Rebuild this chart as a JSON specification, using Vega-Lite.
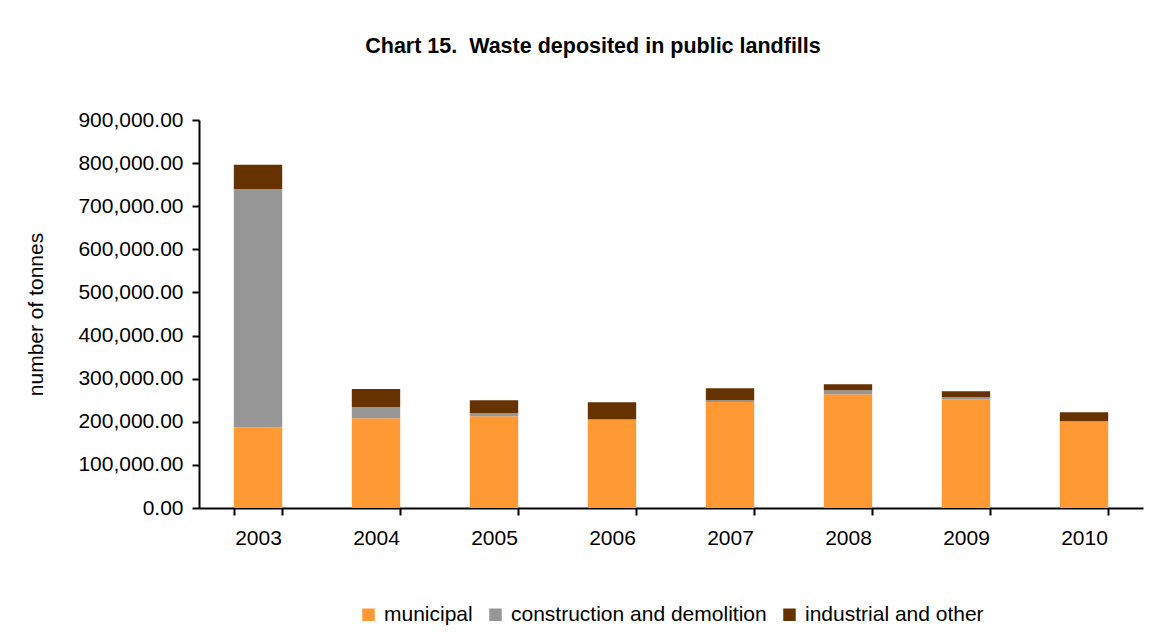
{
  "$schema": "https://vega.github.io/schema/vega-lite/v6.json",
  "autosize": "none",
  "width": 944,
  "height": 388,
  "padding": {"left": 199, "top": 120, "right": 11, "bottom": 124},
  "background": "white",
  "title": {
    "text": "Chart 15.\u00a0\u00a0Waste deposited in public landfills",
    "font": "Liberation Sans",
    "fontSize": 21.5,
    "fontWeight": "bold",
    "color": "black",
    "anchor": "middle",
    "frame": "group",
    "dx": -78,
    "offset": 52
  },
  "data": {
    "values": [
      {"year": "2003", "type": "municipal", "stack_rank": 1, "value": 187000},
      {"year": "2003", "type": "construction and demolition", "stack_rank": 2, "value": 553000},
      {"year": "2003", "type": "industrial and other", "stack_rank": 3, "value": 56000},
      {"year": "2004", "type": "municipal", "stack_rank": 1, "value": 208000},
      {"year": "2004", "type": "construction and demolition", "stack_rank": 2, "value": 26000},
      {"year": "2004", "type": "industrial and other", "stack_rank": 3, "value": 42000},
      {"year": "2005", "type": "municipal", "stack_rank": 1, "value": 213000},
      {"year": "2005", "type": "construction and demolition", "stack_rank": 2, "value": 7000},
      {"year": "2005", "type": "industrial and other", "stack_rank": 3, "value": 30000},
      {"year": "2006", "type": "municipal", "stack_rank": 1, "value": 204000},
      {"year": "2006", "type": "construction and demolition", "stack_rank": 2, "value": 2500},
      {"year": "2006", "type": "industrial and other", "stack_rank": 3, "value": 39000},
      {"year": "2007", "type": "municipal", "stack_rank": 1, "value": 246000},
      {"year": "2007", "type": "construction and demolition", "stack_rank": 2, "value": 4000},
      {"year": "2007", "type": "industrial and other", "stack_rank": 3, "value": 28000},
      {"year": "2008", "type": "municipal", "stack_rank": 1, "value": 264000},
      {"year": "2008", "type": "construction and demolition", "stack_rank": 2, "value": 9000},
      {"year": "2008", "type": "industrial and other", "stack_rank": 3, "value": 14000},
      {"year": "2009", "type": "municipal", "stack_rank": 1, "value": 252000},
      {"year": "2009", "type": "construction and demolition", "stack_rank": 2, "value": 5000},
      {"year": "2009", "type": "industrial and other", "stack_rank": 3, "value": 14000},
      {"year": "2010", "type": "municipal", "stack_rank": 1, "value": 201000},
      {"year": "2010", "type": "construction and demolition", "stack_rank": 2, "value": 0},
      {"year": "2010", "type": "industrial and other", "stack_rank": 3, "value": 21000}
    ]
  },
  "mark": {"type": "bar"},
  "encoding": {
    "x": {
      "field": "year",
      "type": "ordinal",
      "scale": {"paddingInner": 0.59, "paddingOuter": 0.295},
      "axis": {
        "title": null,
        "labelAngle": 0,
        "tickBand": "extent",
        "labelFontSize": 21,
        "labelPadding": 12,
        "tickSize": 7,
        "tickWidth": 2,
        "domainWidth": 2,
        "domainColor": "black",
        "tickColor": "black",
        "labelColor": "black",
        "labelFont": "Liberation Sans"
      }
    },
    "y": {
      "field": "value",
      "type": "quantitative",
      "stack": "zero",
      "scale": {"domain": [0, 900000], "nice": false},
      "axis": {
        "title": "number of tonnes",
        "titleFont": "Liberation Sans",
        "titleFontSize": 21,
        "titleFontWeight": "normal",
        "titleColor": "black",
        "titlePadding": 31,
        "values": [0, 100000, 200000, 300000, 400000, 500000, 600000, 700000, 800000, 900000],
        "format": ",.2f",
        "grid": false,
        "labelFontSize": 21,
        "labelFont": "Liberation Sans",
        "labelColor": "black",
        "labelPadding": 9,
        "tickSize": 7,
        "tickWidth": 2,
        "domainWidth": 2,
        "domainColor": "black",
        "tickColor": "black"
      }
    },
    "color": {
      "field": "type",
      "type": "nominal",
      "scale": {
        "domain": ["municipal", "construction and demolition", "industrial and other"],
        "range": ["#FF9933", "#969696", "#663300"]
      },
      "legend": {
        "title": null,
        "orient": "bottom",
        "direction": "horizontal",
        "symbolType": "square",
        "symbolSize": 156,
        "symbolStrokeWidth": 0,
        "labelFontSize": 21,
        "labelFont": "Liberation Sans",
        "labelColor": "black",
        "labelLimit": 0,
        "columnPadding": 12,
        "labelOffset": 5,
        "offset": 56
      }
    },
    "order": {"field": "stack_rank", "type": "quantitative"}
  },
  "config": {
    "view": {"stroke": null},
    "legend": {"layout": {"bottom": {"anchor": "middle"}}}
  }
}
